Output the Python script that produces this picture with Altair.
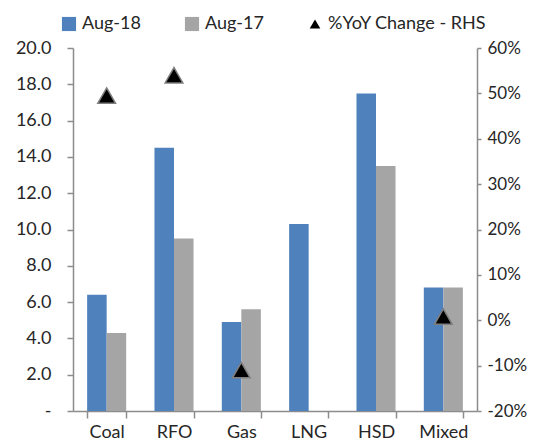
import altair as alt
import pandas as pd

categories = ["Coal", "RFO", "Gas", "LNG", "HSD", "Mixed"]
aug18 = [6.4, 14.5, 4.9, 10.3, 17.5, 6.8]
aug17 = [4.3, 9.5, 5.6, 0.0, 13.5, 6.8]
yoy = [0.495, 0.54, -0.11, None, None, 0.008]
series_names = ["Aug-18", "Aug-17", "%YoY Change - RHS"]
colors = ["#4f81bd", "#a5a5a5", "#000000"]
left_ticks = [0, 2, 4, 6, 8, 10, 12, 14, 16, 18, 20]
right_ticks = [-0.2, -0.1, 0.0, 0.1, 0.2, 0.3, 0.4, 0.5, 0.6]

bars_df = pd.DataFrame({
    "category": categories * 2,
    "series": [series_names[0]] * len(categories) + [series_names[1]] * len(categories),
    "value": aug18 + aug17,
})
pts_df = pd.DataFrame({"category": categories, "series": series_names[2], "yoy": yoy}).dropna()

FONT = "Lato"
FS = 18
TXT = "#262626"
AX = "#8c8c8c"
SQUARE = "M-1,-1H1V1H-1Z"
TRI = "M0,-0.65L0.75,0.65L-0.75,0.65Z"

color_scale = alt.Scale(domain=series_names, range=colors)
shape_scale = alt.Scale(domain=series_names, range=[SQUARE, SQUARE, TRI])

leg = alt.Legend(orient="none", legendX=-13, legendY=-33, direction="horizontal",
                 symbolSize=200, symbolStrokeWidth=0, labelFont=FONT, labelFontSize=FS,
                 labelColor=TXT, labelOffset=4, columnPadding=42, labelLimit=400)

x_enc = alt.X("category:N", sort=categories, title=None,
              scale=alt.Scale(paddingInner=0.42, paddingOuter=0.21),
              axis=alt.Axis(labelAngle=0, tickBand="extent", tickSize=7, labelPadding=19,
                            labelBaseline="alphabetic",
                            domainColor=AX, tickColor=AX, domainWidth=1.5, tickWidth=1.5,
                            labelFont=FONT, labelFontSize=FS, labelColor=TXT, grid=False))

bars = alt.Chart(bars_df).mark_bar().encode(
    x=x_enc,
    xOffset=alt.XOffset("series:N", sort=series_names[:2],
                        scale=alt.Scale(paddingInner=0, paddingOuter=0)),
    y=alt.Y("value:Q", title=None, scale=alt.Scale(domain=[0, 20], nice=False),
            axis=alt.Axis(values=left_ticks, grid=False, tickSize=6, labelPadding=16,
                          labelExpr="datum.value == 0 ? '-\u00a0\u00a0' : format(datum.value, '.1f')",
                          domainColor=AX, tickColor=AX, domainWidth=1.5, tickWidth=1.5,
                          labelFont=FONT, labelFontSize=FS, labelColor=TXT)),
    color=alt.Color("series:N", scale=color_scale, legend=leg, title=None),
)

points = alt.Chart(pts_df).mark_point(filled=True, size=557, stroke="#7f7f7f",
                                      strokeWidth=1.5, opacity=1).encode(
    x=x_enc,
    y=alt.Y("yoy:Q", title=None, scale=alt.Scale(domain=[-0.2, 0.6], nice=False),
            axis=alt.Axis(orient="right", values=right_ticks, grid=False,
                          labelExpr="replace(format(datum.value, '.0%'), '\u2212', '-')",
                          tickSize=4, labelPadding=6, labelAlign="left",
                          domainColor=AX, tickColor=AX, domainWidth=1.5, tickWidth=1.5,
                          labelFont=FONT, labelFontSize=17, labelColor=TXT)),
    color=alt.Color("series:N", scale=color_scale, legend=leg, title=None),
    shape=alt.Shape("series:N", scale=shape_scale, legend=leg, title=None),
)

chart = alt.layer(bars, points).resolve_scale(y="independent").properties(
    width=404, height=363,
    padding={"left": 65, "top": 40, "right": 56, "bottom": 29},
    autosize=alt.AutoSizeParams(type="none"),
).configure_view(stroke=None)

chart.save("out.html", embed_options={"renderer": "svg", "actions": False})
